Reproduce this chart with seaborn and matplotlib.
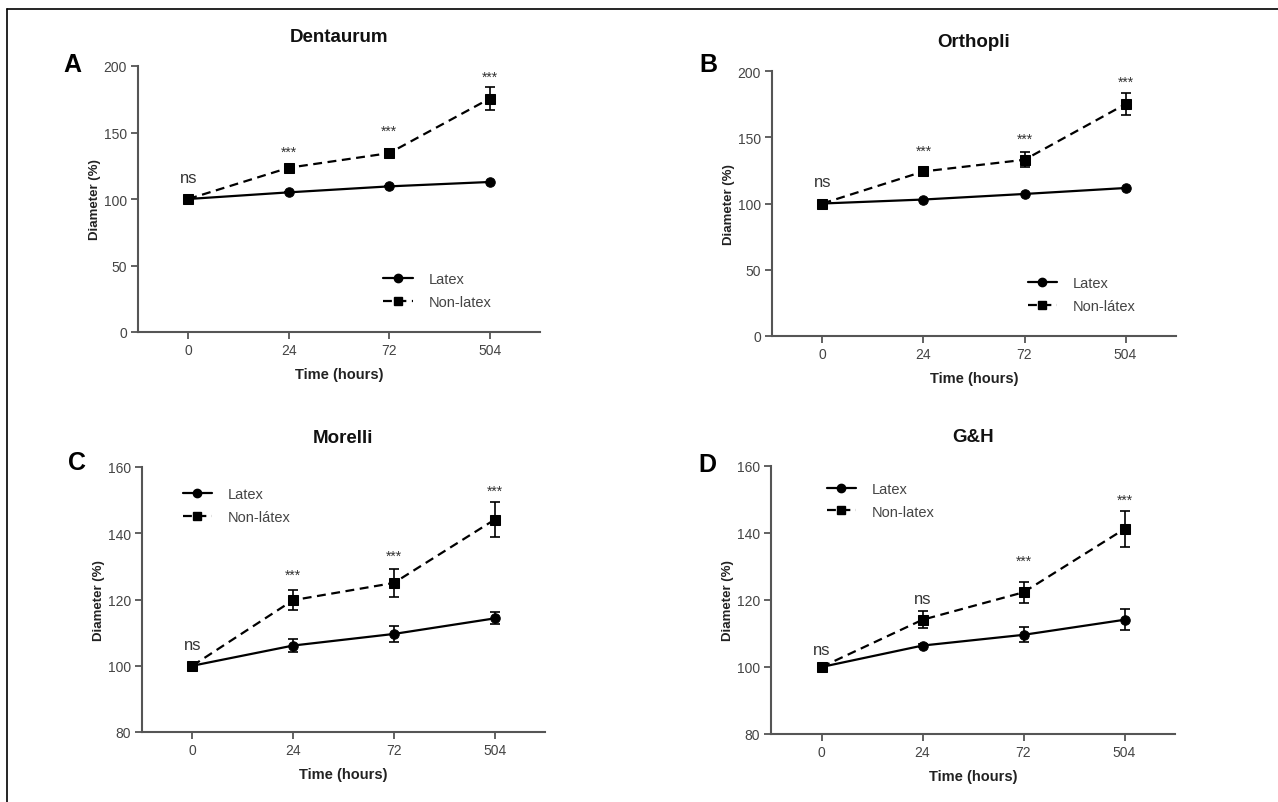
import matplotlib
matplotlib.use("Agg")
import matplotlib.pyplot as plt
import seaborn as sns
import pandas as pd
import numpy as np
from matplotlib.lines import Line2D

sns.set_style("ticks")
plt.rcParams['font.family'] = ['Liberation Sans', 'DejaVu Sans']

# ---------------- data ----------------
time_labels = ["0", "24", "72", "504"]

titles = ["Dentaurum", "Orthopli", "Morelli", "G&H"]
letters = ["A", "B", "C", "D"]
nonlatex_names = ["Non-latex", "Non-látex", "Non-látex", "Non-latex"]

latex_mean = [
    [100, 105, 109.5, 112.8],
    [100, 103, 107.2, 111.7],
    [100, 106.1, 109.6, 114.3],
    [100, 106.4, 109.6, 114.1],
]
latex_err = [
    [0, 0, 0, 0],
    [0, 0, 0, 0],
    [0, 1.9, 2.3, 1.8],
    [0, 0.4, 2.2, 3.2],
]
nonlatex_mean = [
    [100, 123.5, 134.5, 175.5],
    [100, 124.2, 133.0, 175.0],
    [100, 119.8, 125.0, 144.1],
    [100, 114.1, 122.3, 141.2],
]
nonlatex_err = [
    [0, 2.0, 3.0, 8.5],
    [0, 2.0, 5.5, 8.5],
    [0, 3.0, 4.2, 5.2],
    [0, 2.6, 3.2, 5.3],
]

# significance labels and their heights (data units)
sig_labels = [
    ["ns", "***", "***", "***"],
    ["ns", "***", "***", "***"],
    ["ns", "***", "***", "***"],
    ["ns", "ns", "***", "***"],
]
sig_heights = [
    [115.8, 135.5, 151.0, 192.0],
    [116.5, 139.8, 148.7, 192.2],
    [106.5, 127.4, 133.2, 152.8],
    [105.2, 120.5, 131.7, 149.9],
]

ylims = [(0, 200), (0, 200), (80, 160), (80, 160)]
yticks = [[0, 50, 100, 150, 200], [0, 50, 100, 150, 200],
          [80, 100, 120, 140, 160], [80, 100, 120, 140, 160]]

# ---------------- layout ----------------
W, H = 1278, 803
fig = plt.figure(figsize=(W / 100, H / 100), dpi=100)

def box(l, r, t, b):
    return [l / W, 1 - b / H, (r - l) / W, (b - t) / H]

axes_px = [
    (138, 540, 67, 333),
    (772, 1176, 72, 337),
    (142, 545, 468, 733),
    (771, 1175, 467, 735),
]
legend_loc = [
    (0.578, 0.274),
    (0.600, 0.276),
    (0.068, 0.974),
    (0.105, 0.99),
]
letter_px = [(72, 65), (708, 65), (77, 463), (707, 465)]

gray = "#555555"
tick_gray = "#444444"

for i in range(4):
    ax = fig.add_axes(box(*axes_px[i]))
    df = pd.DataFrame({
        "pos": list(range(4)) * 2,
        "val": latex_mean[i] + nonlatex_mean[i],
        "grp": ["Latex"] * 4 + [nonlatex_names[i]] * 4,
    })
    sns.lineplot(data=df, x="pos", y="val", style="grp",
                 markers={"Latex": "o", nonlatex_names[i]: "s"},
                 dashes={"Latex": "", nonlatex_names[i]: (4, 2.5)},
                 color="black", linewidth=1.6, markersize=6.8,
                 markeredgecolor="black", ax=ax, legend=False, zorder=3)
    ax.errorbar(range(4), latex_mean[i], yerr=latex_err[i], fmt="none",
                ecolor="black", elinewidth=1.2, capsize=3.5, capthick=1.2,
                zorder=1)
    ax.errorbar(range(4), nonlatex_mean[i], yerr=nonlatex_err[i], fmt="none",
                ecolor="black", elinewidth=1.2, capsize=3.5, capthick=1.2,
                zorder=1)

    for j in range(4):
        lab = sig_labels[i][j]
        ax.text(j, sig_heights[i][j], lab, ha="center", va="center",
                fontsize=12 if lab == "ns" else 10, color="#333333")

    ax.set_xlim(-0.5, 3.5)
    ax.set_ylim(*ylims[i])
    ax.set_xticks(range(4))
    ax.set_xticklabels(time_labels)
    ax.set_yticks(yticks[i])
    ax.tick_params(axis="both", direction="out", length=5, width=1.3,
                   color=gray, labelcolor=tick_gray, labelsize=10, pad=3)
    for s in ["top", "right"]:
        ax.spines[s].set_visible(False)
    for s in ["left", "bottom"]:
        ax.spines[s].set_color(gray)
        ax.spines[s].set_linewidth(1.5)
    ax.set_xlabel("Time (hours)", fontsize=10.5, fontweight="bold",
                  color="#222222", labelpad=7)
    ax.set_ylabel("Diameter (%)", fontsize=9.5, fontweight="bold",
                  color="#222222", labelpad=2)
    ax.set_title(titles[i], fontsize=13.5, fontweight="bold", pad=18,
                 color="#111111")

    handles = [
        Line2D([0], [0], color="black", lw=1.6, marker="o", markersize=6),
        Line2D([0], [0], color="black", lw=1.6, ls=(0, (4, 2.5)),
               marker="s", markersize=6),
    ]
    ax.legend(handles, ["Latex", nonlatex_names[i]], frameon=False,
              loc="upper left", bbox_to_anchor=legend_loc[i],
              fontsize=10.5, handlelength=2.0, labelspacing=0.6,
              handletextpad=1.1, labelcolor="#444444")

    lx, ly = letter_px[i]
    fig.text(lx / W, 1 - ly / H, letters[i], fontsize=18, fontweight="bold",
             ha="center", va="center", color="black")

# border on top and left
fig.add_artist(Line2D([7 / W, 7 / W], [0, 1 - 10 / H], color="black", lw=1.2,
                      transform=fig.transFigure))
fig.add_artist(Line2D([7 / W, 1], [1 - 10 / H, 1 - 10 / H], color="black",
                      lw=1.2, transform=fig.transFigure))

fig.savefig("out.png", dpi=100)
